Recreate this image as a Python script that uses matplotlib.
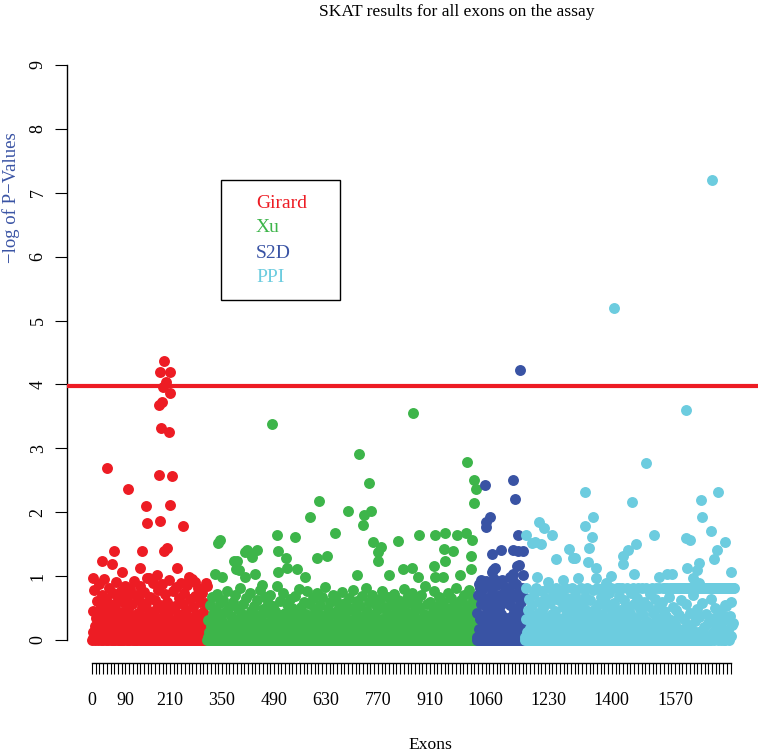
import matplotlib
matplotlib.use('Agg')
import matplotlib.pyplot as plt
from matplotlib.patches import Rectangle
import numpy as np

plt.rcParams['font.family'] = ['Liberation Serif', 'DejaVu Serif']

# first exon index of each source on the assay
girard_start = 1
xu_start = 311
s2d_start = 1036
ppi_start = 1166

# -log p-values of the dense band, in hundredths, one per exon
girard_band = [
    0,3,45,12,1,78,6,22,0,34,9,2,61,15,4,28,0,88,7,40,
    2,18,0,53,5,11,70,1,31,8,0,24,95,3,47,13,0,66,6,19,
    1,37,4,0,82,9,26,2,57,14,0,5,42,20,3,73,0,10,33,6,
    0,50,2,16,7,91,1,29,12,0,64,4,38,0,8,21,76,3,0,44,
    11,0,5,59,2,27,0,85,9,17,1,35,0,68,4,13,0,48,23,6,
    0,80,3,14,39,1,7,0,56,25,2,10,93,0,31,5,18,0,71,8,
    4,0,43,12,1,62,6,0,26,84,3,15,0,52,9,2,36,0,19,75,
    1,0,30,7,58,0,11,3,97,21,0,6,46,2,14,0,67,8,33,0,
    5,24,0,89,2,12,41,0,7,63,1,17,0,50,4,28,0,9,79,3,
    0,15,55,1,6,0,34,87,2,20,0,10,45,3,0,72,8,27,0,13,
    2,60,0,4,38,11,0,94,6,22,1,0,49,16,3,0,77,9,30,0,
    7,0,54,2,18,0,83,5,12,0,40,1,66,0,25,4,0,14,90,3,
    0,32,8,0,57,1,21,0,74,6,11,0,47,2,0,86,13,3,36,0,
    9,0,64,4,17,0,29,1,96,0,7,52,2,0,23,11,0,69,5,0,
    41,3,0,15,81,1,8,0,35,60,2,0,19,6,73,0,12,4,0,44,
    0,27,9,1,58,0,16,3,85,0,
]
xu_band = [
    0,4,31,1,12,0,55,3,0,22,7,0,68,2,15,0,40,5,1,26,
    0,9,47,0,3,18,0,72,1,6,35,0,11,2,0,58,4,20,0,8,
    29,1,0,63,5,13,0,2,44,0,16,7,0,77,3,24,0,10,1,51,
    0,6,19,0,38,2,0,11,60,1,4,0,27,9,0,70,2,14,0,33,
    5,0,48,1,17,0,3,82,0,23,8,1,0,41,12,0,6,57,2,0,
    30,0,10,3,66,0,15,1,0,36,4,21,0,9,74,0,2,45,13,0,
    0,7,25,1,0,53,5,0,18,2,39,0,11,0,62,4,0,28,6,1,
    16,0,79,2,0,33,8,0,12,49,1,0,5,22,0,67,3,14,0,42,
    1,0,9,58,0,26,2,0,71,6,17,0,3,37,0,10,54,1,0,20,
    7,0,46,2,13,0,85,4,0,24,1,31,0,8,0,61,15,2,0,39,
    0,5,19,0,74,3,0,11,43,1,0,28,6,0,56,2,16,0,9,34,
    2,0,64,7,0,21,1,0,50,12,4,0,38,0,17,69,3,0,25,8,
    0,45,1,14,0,6,80,0,27,3,0,10,52,2,0,19,33,0,5,60,
    1,0,23,9,0,41,3,0,76,15,0,4,29,0,11,2,57,0,7,36,
    0,18,2,65,0,8,0,32,12,1,47,0,5,0,73,20,3,0,10,43,
    4,0,55,1,0,26,9,0,14,68,2,0,37,6,0,22,1,83,0,12,
    0,30,3,0,48,7,16,0,2,59,0,11,25,1,0,40,5,0,71,9,
    2,0,19,44,0,6,0,63,13,1,0,34,4,0,52,17,0,8,27,0,
    0,75,3,10,0,39,1,0,21,5,58,0,14,2,0,46,7,0,31,0,
    12,1,66,0,4,24,0,9,50,2,0,17,0,78,6,0,35,11,1,0,
    42,3,0,15,61,0,7,28,0,2,54,0,10,1,0,69,4,19,0,26,
    0,8,37,0,13,0,81,3,0,22,5,45,0,1,16,0,59,6,0,32,
    2,0,11,70,0,25,4,0,40,1,9,0,56,14,0,3,29,0,7,48,
    0,18,1,0,64,6,0,33,10,2,0,77,4,21,0,12,0,51,3,0,
    27,0,5,43,1,0,15,67,0,8,0,36,2,19,0,57,11,0,4,30,
    1,0,72,6,0,23,0,13,49,2,0,9,62,0,17,3,0,39,5,0,
    14,0,53,1,0,28,7,0,80,3,0,20,10,0,44,2,0,66,8,0,
    0,34,4,0,16,58,1,0,11,26,0,5,74,0,2,38,12,0,6,47,
    3,0,21,0,63,9,0,31,1,0,15,52,0,4,0,70,18,2,0,28,
    0,10,41,0,6,0,85,13,1,0,24,3,56,0,8,0,35,17,0,2,
    60,0,5,29,0,12,0,46,1,7,0,76,2,0,19,33,0,9,0,54,
    1,15,0,68,3,0,22,6,0,42,0,11,2,59,0,26,4,0,14,37,
    0,7,50,0,18,1,0,73,9,0,30,3,0,13,45,0,5,65,0,21,
    2,0,39,10,0,57,1,0,16,4,82,0,8,27,0,12,48,0,3,0,
    33,6,0,62,1,20,0,11,43,0,5,71,0,15,2,0,36,9,0,55,
    0,24,3,0,78,8,0,17,1,49,0,12,4,0,64,2,30,0,7,0,
    41,1,18,0,60,
]
s2d_band = [
    0,42,5,71,1,18,0,88,9,33,2,0,57,14,0,79,4,26,0,63,
    7,0,39,2,92,11,0,48,3,0,66,21,1,0,84,6,30,0,53,15,
    0,75,2,36,0,10,95,0,45,4,19,0,61,1,0,27,86,8,0,50,
    3,0,70,13,0,41,2,0,90,24,0,6,58,0,17,77,1,0,35,9,
    0,64,4,0,82,16,0,29,1,55,0,12,0,73,5,38,0,93,2,0,
    47,8,0,68,3,22,0,87,0,11,52,1,0,31,76,0,6,44,0,60,
    2,0,81,15,0,40,5,0,67,25,
]
ppi_band = [
    0,5,33,1,81,0,12,2,47,0,8,64,0,19,3,0,28,1,55,0,
    9,0,38,2,0,72,14,0,4,25,0,81,1,10,0,43,6,0,59,2,
    0,17,1,30,0,77,5,0,13,0,50,3,21,0,8,66,0,2,36,0,
    11,0,81,4,0,24,1,0,58,7,0,15,40,0,2,69,0,9,27,0,
    3,46,0,12,0,81,6,0,34,1,20,0,62,2,0,14,0,75,5,31,
    0,8,52,0,1,18,0,81,4,0,39,10,0,65,2,0,23,7,0,44,
    1,0,29,13,0,57,3,0,81,0,16,6,48,0,2,0,71,11,0,35,
    0,4,22,0,60,1,9,0,41,0,81,3,0,26,15,0,54,2,0,19,
    7,0,68,0,32,5,0,12,81,1,0,45,0,8,21,0,63,3,0,37,
    0,14,2,0,78,6,0,27,1,49,0,10,0,81,4,33,0,17,0,56,
    2,0,24,9,0,67,0,13,40,1,0,81,5,0,20,0,61,3,30,0,
    11,0,51,2,0,16,73,0,6,0,36,1,81,0,9,25,0,44,3,0,
    0,58,4,0,19,1,0,81,12,0,31,7,0,69,2,0,14,47,0,5,
    22,0,81,1,0,38,8,0,62,0,15,3,0,53,10,0,81,2,27,0,
    6,0,43,0,13,74,1,0,28,4,0,81,0,18,57,0,9,2,35,0,
    0,66,3,11,0,81,1,0,24,0,49,7,0,15,81,0,4,39,0,20,
    2,0,60,8,0,30,0,81,12,1,0,54,5,0,17,0,72,3,26,0,
    0,10,81,0,42,2,0,21,6,0,64,1,81,0,13,34,0,7,0,50,
    4,0,81,16,0,28,1,0,59,9,0,81,3,0,23,45,0,11,81,0,
    0,37,2,81,0,14,0,68,5,0,81,19,1,0,32,0,81,8,0,52,
    12,0,81,3,0,25,47,0,81,6,0,15,1,81,0,39,0,81,9,0,
    0,62,4,81,0,18,0,81,2,33,0,81,11,0,56,81,0,6,81,0,
    24,1,81,0,43,0,81,7,0,81,15,0,70,81,3,0,81,29,0,81,
    5,0,81,48,0,13,81,0,81,2,36,81,0,81,10,0,81,58,0,81,
    1,81,20,0,81,0,81,41,81,0,7,81,0,81,26,81,0,81,3,81,
    0,81,64,81,30,81,12,81,0,81,34,81,50,81,5,81,22,81,17,81,
    81,0,81,46,81,27,81,22,81,0,81,39,81,14,81,31,81,0,81,55,
    0,81,53,81,2,81,36,81,15,81,0,81,38,81,60,81,6,81,24,81,
    81,27,81,
]

# points standing out above the band: exon index and -log p
girard_hi_x = [195,183,210,199,192,210,188,180,186,208,40,180,216,98,145,211,149,184,244,
               60,135,194,201,28,53,228,129,81,2,175,153,260,278,308]
girard_hi_y = [4.36,4.19,4.19,4.04,3.96,3.86,3.73,3.68,3.32,3.25,2.69,2.59,2.57,2.37,2.10,2.12,1.83,1.86,1.79,
               1.40,1.39,1.39,1.44,1.23,1.19,1.12,1.12,1.07,0.97,1.02,0.97,0.99,0.91,0.89]
xu_hi_x = [486,865,720,746,1011,1029,1033,1029,611,588,689,751,733,731,345,339,497,548,654,881,
           924,951,984,1006,1024,758,779,769,823,417,444,430,425,502,523,607,632,947,972,1022,
           390,387,770,952,922,837,863,551,713,1021,800,502,524,574,412,439,457,382,413,395,
           332,350,879,924,946,991]
xu_hi_y = [3.38,3.56,2.91,2.45,2.78,2.50,2.37,2.15,2.18,1.93,2.02,2.02,1.95,1.80,1.56,1.52,1.65,1.62,1.67,1.64,
           1.64,1.67,1.65,1.68,1.56,1.54,1.45,1.38,1.55,1.41,1.41,1.30,1.36,1.39,1.29,1.29,1.32,1.42,1.40,1.31,
           1.23,1.11,1.23,1.23,1.16,1.11,1.12,1.11,1.02,1.11,1.02,1.07,1.12,0.99,0.99,1.04,0.86,1.23,1.38,1.10,
           1.04,0.99,0.99,0.98,0.99,1.02]
s2d_hi_x = [1153,1058,1134,1138,1071,1062,1062,1148,1077,1101,1134,1148,1162,1081,1104,1133,1151,1162,
            1145,1085,1076,1126,1049,1045]
s2d_hi_y = [4.23,2.42,2.50,2.21,1.93,1.85,1.77,1.65,1.35,1.41,1.41,1.40,1.40,1.10,0.94,1.04,1.17,1.02,
            1.16,1.12,1.07,0.98,0.94,0.81]
ppi_hi_x = [1670,1406,1600,1492,1329,1686,1640,1642,1454,1350,1328,1347,1338,1336,1358,1358,1203,1218,
            1240,1168,1186,1209,1193,1250,1284,1296,1514,1599,1610,1667,1704,1682,1675,1466,1444,1431,
            1429,1460,1398,1385,1721,1636,1602,1629,1310,1198,1548,1527,1561,1619,1635,1418,1301,1229,1269]
ppi_hi_y = [7.20,5.20,3.60,2.77,2.32,2.32,2.19,1.93,2.16,1.93,1.78,1.61,1.44,1.22,1.12,0.97,1.84,1.76,
            1.65,1.64,1.52,1.50,1.54,1.27,1.42,1.28,1.64,1.60,1.57,1.71,1.53,1.41,1.27,1.50,1.41,1.31,
            1.19,1.03,1.00,0.89,1.06,1.21,1.12,1.10,0.97,0.99,1.04,0.99,1.04,0.97,0.89,0.81,1.28,0.91,0.94]

threshold = 3.97
sources = ['Girard', 'Xu', 'S2D', 'PPI']
colors = ['#ED1C24', '#3DB54A', '#3953A4', '#6CCCDF']

x_labels = [0, 90, 210, 350, 490, 630, 770, 910, 1060, 1230, 1400, 1570]
x_ticks_all = np.arange(0, 1730, 10)

W, H = 758, 754
fig = plt.figure(figsize=(W / 100, H / 100), dpi=100)
ax = fig.add_axes([67 / W, 1 - 663 / H, (W - 67) / W, 621 / H])

groups = [
    (girard_start, girard_band, girard_hi_x, girard_hi_y),
    (xu_start, xu_band, xu_hi_x, xu_hi_y),
    (s2d_start, s2d_band, s2d_hi_x, s2d_hi_y),
    (ppi_start, ppi_band, ppi_hi_x, ppi_hi_y),
]
for (start, band, hx, hy), col in zip(groups, colors):
    bx = np.arange(start, start + len(band))
    by = np.array(band) / 100.0
    ax.scatter(np.concatenate([bx, hx]), np.concatenate([by, hy]),
               s=62, color=col, linewidths=0, zorder=2)

# first point drawn with the default open symbol
ax.scatter([0], [0], s=22, facecolors='none', edgecolors='black', linewidths=0.8, zorder=1)

ax.axhline(threshold, color='#ED1C24', lw=3, zorder=3)

ax.set_xlim(-67.3, 1793.7)
ax.set_ylim(-0.36, 9.36)

for side in ['top', 'right']:
    ax.spines[side].set_visible(False)
ax.spines['left'].set_bounds(0, 9)
ax.spines['bottom'].set_bounds(0, 1720)
ax.spines['left'].set_linewidth(1.0)
ax.spines['bottom'].set_linewidth(1.0)

ax.set_xticks(x_labels)
ax.set_xticklabels([str(v) for v in x_labels], fontsize=13)
ax.set_xticks(x_ticks_all, minor=True)
ax.tick_params(axis='x', which='both', length=8, width=0.8, direction='out', pad=13)
ax.set_yticks(range(0, 10))
ax.set_yticklabels([str(v) for v in range(0, 10)], fontsize=13, rotation=90, va='center')
ax.tick_params(axis='y', length=8.6, width=0.8, direction='out', pad=6)

fig.text(457 / W, 1 - 12 / H, 'SKAT results for all exons on the assay',
         ha='center', va='center', fontsize=12.6)
fig.text(430 / W, 1 - 745 / H, 'Exons', ha='center', va='center', fontsize=12.6)
fig.text(11 / W, 1 - 198 / H, '\u2212log of P\u2212Values', ha='center', va='center',
         rotation=90, fontsize=13.5, color='#3953A4')

# legend box drawn as in the original (text only, no symbols)
fig.patches.append(Rectangle((221 / W, 1 - 300 / H), 119 / W, 120 / H, transform=fig.transFigure,
                             fill=False, edgecolor='black', lw=1.0))
for i, (name, col) in enumerate(zip(sources, colors)):
    fig.text(256 / W, 1 - (203 + 25 * i) / H, name, color=col, fontsize=14,
             ha='left', va='center')

fig.savefig('out.png', dpi=100)
